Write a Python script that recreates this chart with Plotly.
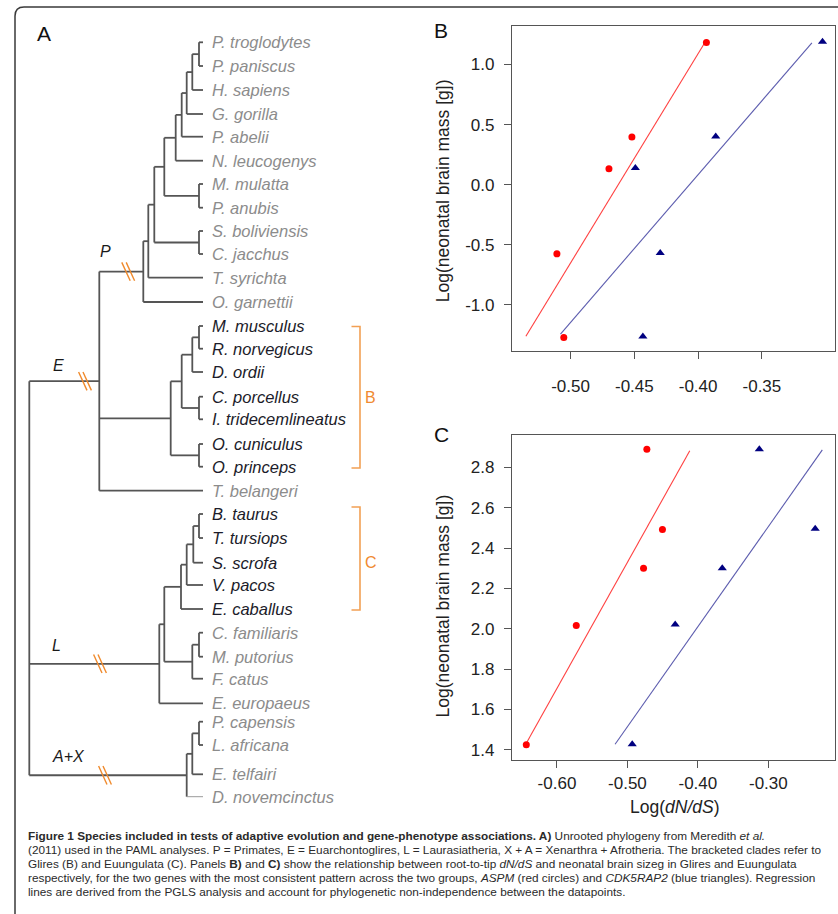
import plotly.graph_objects as go

W, H = 838, 914

# ---------------- Panel B (Glires) ----------------
b_aspm_x = [-0.3935, -0.4519, -0.4699, -0.5107, -0.5053]
b_aspm_y = [1.183, 0.397, 0.133, -0.575, -1.270]
b_cdk_x = [-0.3025, -0.3862, -0.4492, -0.4297, -0.4433]
b_cdk_y = [1.188, 0.402, 0.138, -0.567, -1.262]
b_aspm_fit_x = [-0.5350, -0.3948]
b_aspm_fit_y = [-1.260, 1.180]
b_cdk_fit_x = [-0.5079, -0.3108]
b_cdk_fit_y = [-1.242, 1.180]
b_xticks = [-0.50, -0.45, -0.40, -0.35]
b_xticktext = ["-0.50", "-0.45", "-0.40", "-0.35"]
b_yticks = [-1.0, -0.5, 0.0, 0.5, 1.0]
b_yticktext = ["-1.0", "-0.5", "0.0", "0.5", "1.0"]

# ---------------- Panel C (Euungulata) ----------------
c_aspm_x = [-0.6435, -0.5726, -0.4771, -0.4503, -0.4724]
c_aspm_y = [1.425, 2.016, 2.300, 2.492, 2.889]
c_cdk_x = [-0.4932, -0.4322, -0.3654, -0.2335, -0.3128]
c_cdk_y = [1.428, 2.021, 2.300, 2.496, 2.890]
c_aspm_fit_x = [-0.6435, -0.4115]
c_aspm_fit_y = [1.433, 2.882]
c_cdk_fit_x = [-0.5175, -0.2234]
c_cdk_fit_y = [1.428, 2.886]
c_xticks = [-0.60, -0.50, -0.40, -0.30]
c_xticktext = ["-0.60", "-0.50", "-0.40", "-0.30"]
c_yticks = [1.4, 1.6, 1.8, 2.0, 2.2, 2.4, 2.6, 2.8]
c_yticktext = ["1.4", "1.6", "1.8", "2.0", "2.2", "2.4", "2.6", "2.8"]

# ---------------- Panel A (phylogeny) ----------------
leaf_names = ["P. troglodytes", "P. paniscus", "H. sapiens", "G. gorilla", "P. abelii",
              "N. leucogenys", "M. mulatta", "P. anubis", "S. boliviensis", "C. jacchus",
              "T. syrichta", "O. garnettii", "M. musculus", "R. norvegicus", "D. ordii",
              "C. porcellus", "I. tridecemlineatus", "O. cuniculus", "O. princeps",
              "T. belangeri", "B. taurus", "T. tursiops", "S. scrofa", "V. pacos",
              "E. caballus", "C. familiaris", "M. putorius", "F. catus", "E. europaeus",
              "P. capensis", "L. africana", "E. telfairi", "D. novemcinctus"]
leaf_rows = [42.3, 66.0, 90.0, 114.0, 136.7, 160.7, 184.0, 207.7, 231.0, 254.0,
             277.7, 302.0, 326.0, 348.7, 372.0, 396.7, 419.3, 444.0, 466.7,
             490.7, 514.0, 538.0, 562.7, 585.0, 609.0, 632.7, 656.7, 678.7, 703.3,
             721.7, 745.0, 774.3, 796.7]
dark_leaves = ["M. musculus", "R. norvegicus", "D. ordii", "C. porcellus",
               "I. tridecemlineatus", "O. cuniculus", "O. princeps", "B. taurus",
               "T. tursiops", "S. scrofa", "V. pacos", "E. caballus"]
tip_depth = 203.0

# (label, depth, children); strings are leaves
tree = (None, 29.3, [
    ("E", 99.3, [
        ("P", 143.3, [
            (None, 148.3, [
                (None, 154.3, [
                    (None, 164.3, [
                        (None, 175.7, [
                            (None, 181.7, [
                                (None, 186.7, [
                                    (None, 192.3, [
                                        (None, 199.0, ["P. troglodytes", "P. paniscus"]),
                                        "H. sapiens"]),
                                    "G. gorilla"]),
                                "P. abelii"]),
                            "N. leucogenys"]),
                        (None, 199.0, ["M. mulatta", "P. anubis"])]),
                    (None, 199.0, ["S. boliviensis", "C. jacchus"])]),
                "T. syrichta"]),
            "O. garnettii"]),
        (None, 170.7, [
            (None, 181.7, [
                (None, 192.3, [(None, 199.0, ["M. musculus", "R. norvegicus"]), "D. ordii"]),
                (None, 199.0, ["C. porcellus", "I. tridecemlineatus"])]),
            (None, 199.0, ["O. cuniculus", "O. princeps"])]),
        "T. belangeri"]),
    ("L", 159.3, [
        (None, 164.3, [
            (None, 181.0, [
                (None, 186.7, [
                    (None, 193.3, [(None, 199.0, ["B. taurus", "T. tursiops"]), "S. scrofa"]),
                    "V. pacos"]),
                "E. caballus"]),
            (None, 192.3, [(None, 199.0, ["C. familiaris", "M. putorius"]), "F. catus"])]),
        "E. europaeus"]),
    ("A+X", 186.7, [
        (None, 192.3, [(None, 199.0, ["P. capensis", "L. africana"]), "E. telfairi"]),
        "D. novemcinctus"]),
])

clade_hash = {"P": 128.2, "E": 85.0, "L": 100.0, "A+X": 105.0}
clade_label_pos = {"P": (105.0, -20.0), "E": (58.3, -16.0), "L": (56.7, -18.0), "A+X": (68.3, -19.0)}
brackets = [("B", 326.5, 468.0), ("C", 507.0, 610.0)]
bracket_x = 360.0

caption_lines = [
    "<b>Figure 1 Species included in tests of adaptive evolution and gene-phenotype associations. A)</b> Unrooted phylogeny from Meredith <i>et al.</i>",
    "(2011) used in the PAML analyses. P = Primates, E = Euarchontoglires, L = Laurasiatheria, X + A = Xenarthra + Afrotheria. The bracketed clades refer to",
    "Glires (B) and Euungulata (C). Panels <b>B)</b> and <b>C)</b> show the relationship between root-to-tip <i>dN/dS</i> and neonatal brain sizeg in Glires and Euungulata",
    "respectively, for the two genes with the most consistent pattern across the two groups, <i>ASPM</i> (red circles) and <i>CDK5RAP2</i> (blue triangles). Regression",
    "lines are derived from the PGLS analysis and account for phylogenetic non-independence between the datapoints.",
]

# ---------------- build tree geometry ----------------
leaf_y = dict(zip(leaf_names, leaf_rows))
seg_x, seg_y = [], []
light_x, light_y = [], []
clade_branch = {}


def place(node):
    if isinstance(node, str):
        return leaf_y[node], tip_depth
    label, depth, children = node
    ys = []
    for ch in children:
        cy, cx = place(ch)
        ys.append(cy)
        tx, ty = (light_x, light_y) if ch == "D. novemcinctus" else (seg_x, seg_y)
        tx += [depth, cx, None]
        ty += [cy, cy, None]
        if not isinstance(ch, str) and ch[0] is not None:
            clade_branch[ch[0]] = (depth, cx, cy)
    seg_x.extend([depth, depth, None])
    seg_y.extend([min(ys), max(ys), None])
    return (min(ys) + max(ys)) / 2.0, depth


place(tree)

fig = go.Figure()

# tree lines
fig.add_trace(go.Scatter(x=seg_x, y=seg_y, mode="lines", xaxis="x3", yaxis="y3",
                         line=dict(color="#555555", width=1.8), hoverinfo="skip", showlegend=False))
fig.add_trace(go.Scatter(x=light_x, y=light_y, mode="lines", xaxis="x3", yaxis="y3",
                         line=dict(color="#9a9a9a", width=1.0), hoverinfo="skip", showlegend=False))

# hash marks
hx, hy = [], []
for name, cxh in clade_hash.items():
    _, _, cy = clade_branch[name]
    for off in (-2.2, 2.2):
        hx += [cxh + off - 4.2, cxh + off + 4.2, None]
        hy += [cy - 9.2, cy + 9.2, None]
fig.add_trace(go.Scatter(x=hx, y=hy, mode="lines", xaxis="x3", yaxis="y3",
                         line=dict(color="#f08a2c", width=1.4), hoverinfo="skip", showlegend=False))

# brackets
bx, by = [], []
for lab, y0, y1 in brackets:
    bx += [bracket_x - 8.5, bracket_x, bracket_x, bracket_x - 8.5, None]
    by += [y0, y0, y1, y1, None]
fig.add_trace(go.Scatter(x=bx, y=by, mode="lines", xaxis="x3", yaxis="y3",
                         line=dict(color="#f2a054", width=1.6), hoverinfo="skip", showlegend=False))

# panel B
fig.add_trace(go.Scatter(x=b_aspm_fit_x, y=b_aspm_fit_y, mode="lines", xaxis="x", yaxis="y",
                         line=dict(color="#ff4040", width=1.1), showlegend=False))
fig.add_trace(go.Scatter(x=b_cdk_fit_x, y=b_cdk_fit_y, mode="lines", xaxis="x", yaxis="y",
                         line=dict(color="#5c5cae", width=1.1), showlegend=False))
fig.add_trace(go.Scatter(x=b_aspm_x, y=b_aspm_y, mode="markers", xaxis="x", yaxis="y",
                         marker=dict(symbol="circle", color="#ff0000", size=7), showlegend=False))
fig.add_trace(go.Scatter(x=b_cdk_x, y=b_cdk_y, mode="markers", xaxis="x", yaxis="y",
                         marker=dict(symbol="triangle-up", color="#000080", size=8), showlegend=False))

# panel C
fig.add_trace(go.Scatter(x=c_aspm_fit_x, y=c_aspm_fit_y, mode="lines", xaxis="x2", yaxis="y2",
                         line=dict(color="#ff4040", width=1.1), showlegend=False))
fig.add_trace(go.Scatter(x=c_cdk_fit_x, y=c_cdk_fit_y, mode="lines", xaxis="x2", yaxis="y2",
                         line=dict(color="#5c5cae", width=1.1), showlegend=False))
fig.add_trace(go.Scatter(x=c_aspm_x, y=c_aspm_y, mode="markers", xaxis="x2", yaxis="y2",
                         marker=dict(symbol="circle", color="#ff0000", size=7), showlegend=False))
fig.add_trace(go.Scatter(x=c_cdk_x, y=c_cdk_y, mode="markers", xaxis="x2", yaxis="y2",
                         marker=dict(symbol="triangle-up", color="#000080", size=8), showlegend=False))

SANS = "Liberation Sans, Arial, sans-serif"


def px_x(v):
    return v / W


def px_y(v):
    return 1 - v / H


axcommon = dict(showline=True, mirror=True, linecolor="#555555", linewidth=1.3,
                ticks="outside", ticklen=7, tickcolor="#555555", tickwidth=1,
                showgrid=False, zeroline=False,
                tickfont=dict(family=SANS, size=17, color="#222222"))

fig.update_layout(
    width=W, height=H, margin=dict(l=0, r=0, t=0, b=0),
    paper_bgcolor="white", plot_bgcolor="rgba(0,0,0,0)",
    xaxis=dict(domain=[px_x(512), px_x(835)], range=[-0.5459, -0.2927], anchor="y",
               tickvals=b_xticks, ticktext=b_xticktext, ticklabelstandoff=12, **axcommon),
    yaxis=dict(domain=[px_y(351), px_y(26)], range=[-1.383, 1.32], anchor="x",
               tickvals=b_yticks, ticktext=b_yticktext, ticklabelstandoff=6, **axcommon),
    xaxis2=dict(domain=[px_x(512), px_x(835)], range=[-0.6638, -0.2054], anchor="y2",
                tickvals=c_xticks, ticktext=c_xticktext, ticklabelstandoff=0, **axcommon),
    yaxis2=dict(domain=[px_y(760), px_y(435)], range=[1.35, 2.96], anchor="x2",
                tickvals=c_yticks, ticktext=c_yticktext, ticklabelstandoff=6, **axcommon),
    xaxis3=dict(domain=[0, 1], range=[0, W], visible=False, anchor="y3", fixedrange=True),
    yaxis3=dict(domain=[0, 1], range=[H, 0], visible=False, anchor="x3", fixedrange=True),
    showlegend=False,
)

ann = []
# leaf labels
for name, y in zip(leaf_names, leaf_rows):
    col = "#1c1c2a" if name in dark_leaves else "#8c8c8c"
    ann.append(dict(x=209.5, y=y, xref="x3", yref="y3", text="<i>%s</i>" % name, showarrow=False,
                    xanchor="left", yanchor="middle", font=dict(family=SANS, size=16.5, color=col)))
# clade labels
for name, (lx, dy) in clade_label_pos.items():
    _, _, cy = clade_branch[name]
    ann.append(dict(x=lx, y=cy + dy, xref="x3", yref="y3", text="<i>%s</i>" % name, showarrow=False,
                    xanchor="center", yanchor="middle", font=dict(family=SANS, size=16, color="#1a1a1a")))
# bracket labels
for lab, y0, y1 in brackets:
    ann.append(dict(x=bracket_x + 3, y=(y0 + y1) / 2 if lab == "B" else 562.7, xref="x3", yref="y3",
                    text=lab, showarrow=False, xanchor="left", yanchor="middle",
                    font=dict(family=SANS, size=16, color="#f08a30")))
# panel letters
for lab, lx, ly in [("A", 43.5, 33.7), ("B", 440.8, 30.8), ("C", 441.0, 434.8)]:
    ann.append(dict(x=lx, y=ly, xref="x3", yref="y3", text=lab, showarrow=False,
                    xanchor="center", yanchor="middle", font=dict(family=SANS, size=21, color="#111111")))
# axis titles
ann.append(dict(x=442.5, y=190.8, xref="x3", yref="y3", text="Log(neonatal brain mass [g])",
                textangle=-90, showarrow=False, xanchor="center", yanchor="middle",
                font=dict(family=SANS, size=17.5, color="#222222")))
ann.append(dict(x=442.5, y=606.0, xref="x3", yref="y3", text="Log(neonatal brain mass [g])",
                textangle=-90, showarrow=False, xanchor="center", yanchor="middle",
                font=dict(family=SANS, size=17.5, color="#222222")))
ann.append(dict(x=675.0, y=806.7, xref="x3", yref="y3", text="Log(<i>dN/dS</i>)",
                showarrow=False, xanchor="center", yanchor="middle",
                font=dict(family=SANS, size=17.5, color="#222222")))
# caption
for i, line in enumerate(caption_lines):
    ann.append(dict(x=26.0, y=836.0 + 13.9 * i, xref="x3", yref="y3", text=line, showarrow=False,
                    xanchor="left", yanchor="middle", font=dict(family=SANS, size=11.8, color="#2a2a2a")))

fig.update_layout(annotations=ann)

# outer frame with rounded top-left corner
fig.add_shape(type="path", xref="x3", yref="y3",
              path="M 15,914 L 15,16 Q 15,7 24,7 L 840,7",
              line=dict(color="#3a3a3a", width=1.5))

fig.write_html("out.html")
